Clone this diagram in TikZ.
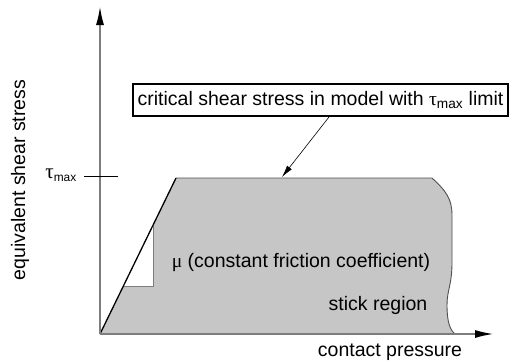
\documentclass[tikz,border=0pt]{standalone}
\usepackage{fontspec}
\setmainfont{Liberation Sans}
\newfontfamily\symfont{Liberation Serif}
\usetikzlibrary{arrows.meta}
\definecolor{regiongray}{RGB}{198,198,198}
\definecolor{axisgray}{RGB}{125,125,125}
\definecolor{edgegray}{RGB}{80,80,80}
\begin{document}
\begin{tikzpicture}[x=1pt,y=-1pt,
  lbl/.style={font=\fontsize{19.5}{23}\selectfont, inner sep=0pt},
  axisline/.style={draw=axisgray, line width=1.2pt, -{Latex[length=18pt,width=8pt,color=black]}}]
\useasboundingbox (0,0) rectangle (510,362);
% shaded region
\coordinate (o) at (100,334);
\coordinate (tl) at (176,178);
\coordinate (tr) at (432,178);
\coordinate (br) at (455,334);
\fill[regiongray] (o) -- (tl) -- (tr) .. controls (445,190) and (452,198) .. (452,215)
  -- (452,262) .. controls (452,285) and (447,290) .. (447,305)
  .. controls (447,322) and (450,330) .. (br) -- cycle;
\draw[edgegray, line width=0.9pt] (tl) -- (tr) .. controls (445,190) and (452,198) .. (452,215)
  -- (452,262) .. controls (452,285) and (447,290) .. (447,305)
  .. controls (447,322) and (450,330) .. (br);
% small triangle
\coordinate (ta) at (153,225.5);
\coordinate (tb) at (153,286);
\coordinate (tc) at (123.4,286);
\fill[white] (tc) -- (ta) -- (tb) -- cycle;
\draw[axisgray, line width=0.9pt] (ta) -- (tb) -- (tc);
% slope line
\draw[black, line width=1.3pt] (o) -- (tl);
% axes
\coordinate (ytip) at (100,7);
\coordinate (xtip) at (493,334);
\draw[axisline] (o) -- (ytip);
\draw[axisline] (o) -- (xtip);
% tau max tick
\coordinate (tick1) at (84,176);
\coordinate (tick2) at (118,176);
\draw[black, line width=0.8pt] (tick1) -- (tick2);
\node[font=\fontsize{17}{20}\selectfont, inner sep=0pt, anchor=east] (taulbl) at (77,175) {{\symfont\fontsize{21}{23}\selectfont τ}\textsubscript{max}};
% box
\node[lbl, draw=black, line width=1.8pt, minimum width=375pt, minimum height=32pt] (box) at (320.5,100) {critical shear stress in model with {\symfont τ}\textsubscript{max} limit};
\coordinate (src) at (329,117);
\coordinate (tgt) at (282,177);
\draw[black, line width=0.6pt, -{Latex[length=12pt,width=6pt]}] (src) -- (tgt);
% labels
\node[lbl] (mu) at (301,263) {{\symfont μ} (constant friction coefficient)};
\node[lbl] (stick) at (378,305) {stick region};
\node[lbl] (xl) at (390,352) {contact pressure};
\node[lbl, rotate=90] (yl) at (20,180) {equivalent shear stress};
\end{tikzpicture}
\end{document}
